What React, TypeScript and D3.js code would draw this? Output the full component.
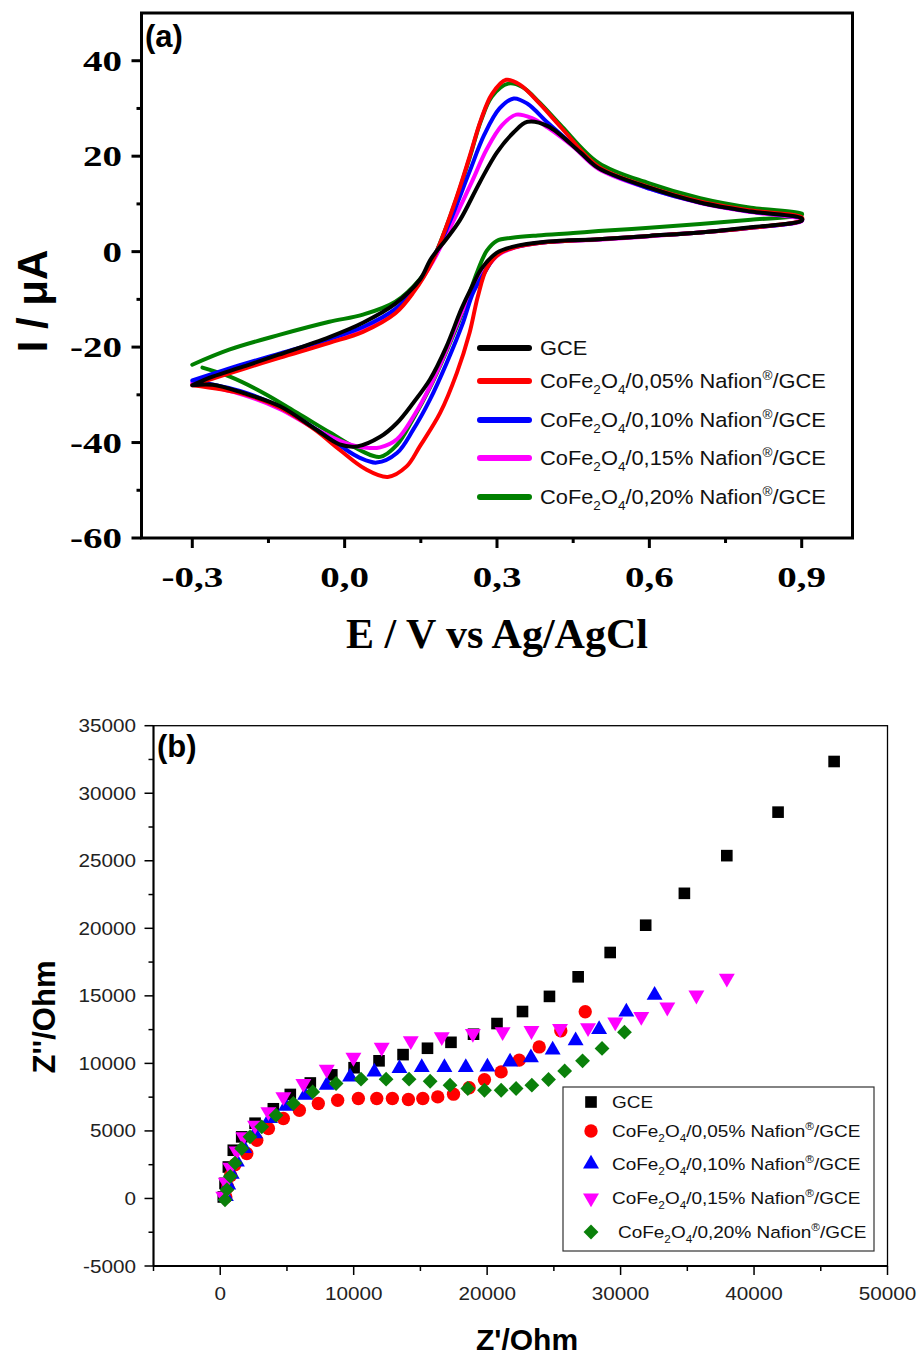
import React from "react";
import * as d3 from "d3";

type Pt = [number, number];

// ---------- Panel (a): cyclic voltammograms, [E (V), I (µA)] ----------
const gceUpper: Pt[] = [[-0.3,-28],[-0.26,-26.2],[-0.2,-24.1],[-0.13,-21.6],[-0.03,-17.9],[0.036,-14.9],[0.1,-10.9],[0.148,-5.9],[0.17,-1.5],[0.2,2.6],[0.227,6.6],[0.266,14.5],[0.3,20.8],[0.332,24.9],[0.36,27.2],[0.4,26.3],[0.464,20.8],[0.5,17.5],[0.6,13.4],[0.7,10.3],[0.8,8.4],[0.9,7.0]];
const gceLower: Pt[] = [[0.9,6.5],[0.8,5.1],[0.7,4.0],[0.6,3.3],[0.5,2.6],[0.4,2.1],[0.33,1.0],[0.3,-0.2],[0.27,-3.5],[0.25,-7.5],[0.23,-12],[0.2,-20],[0.168,-26.8],[0.135,-31.7],[0.103,-35.9],[0.07,-38.8],[0.025,-40.8],[-0.01,-40.4],[-0.06,-37],[-0.127,-32.4],[-0.2,-29.6],[-0.26,-27.9],[-0.3,-28]];

const n05Upper: Pt[] = [[-0.3,-28],[-0.2,-24.6],[-0.127,-22.2],[-0.03,-19.1],[0.036,-16.8],[0.1,-12.9],[0.135,-8.6],[0.174,-1.7],[0.214,9.4],[0.246,19.9],[0.268,27.5],[0.29,33],[0.318,36],[0.345,35],[0.384,31],[0.428,25.8],[0.5,17.8],[0.6,13.5],[0.7,10.5],[0.8,8.6],[0.9,7.2]];
const n05Lower: Pt[] = [[0.9,6.6],[0.8,5.0],[0.7,4.0],[0.6,3.3],[0.5,2.6],[0.4,2.0],[0.335,0.9],[0.306,-0.3],[0.28,-3.5],[0.262,-9.5],[0.246,-17],[0.221,-25.4],[0.188,-33.8],[0.148,-40.8],[0.122,-45],[0.085,-47.2],[0.04,-45.5],[-0.01,-41.5],[-0.06,-37.2],[-0.127,-32.7],[-0.2,-29.8],[-0.3,-28]];

const n10Upper: Pt[] = [[-0.3,-27],[-0.2,-23.6],[-0.127,-21.3],[-0.03,-18.3],[0.036,-15.8],[0.1,-12],[0.14,-7.5],[0.174,-1.5],[0.21,7],[0.245,16.5],[0.275,24.5],[0.305,30],[0.333,32.1],[0.36,31],[0.4,27],[0.45,22.3],[0.5,17.6],[0.6,13.2],[0.7,10.3],[0.8,8.4],[0.9,7.0]];
const n10Lower: Pt[] = [[0.9,6.5],[0.8,5.0],[0.7,4.0],[0.6,3.3],[0.5,2.6],[0.4,2.0],[0.333,0.9],[0.3,-0.6],[0.275,-4.5],[0.253,-8.6],[0.233,-14.9],[0.201,-23.3],[0.168,-31],[0.135,-37.3],[0.103,-42.2],[0.063,-44.2],[0.03,-43.2],[-0.01,-40.6],[-0.06,-37],[-0.127,-32.6],[-0.2,-29.4],[-0.3,-27]];

const n15Upper: Pt[] = [[-0.3,-27.5],[-0.2,-24],[-0.127,-21.6],[-0.03,-18.5],[0.036,-16],[0.1,-12.2],[0.14,-7.5],[0.174,-2],[0.21,5.5],[0.25,14.5],[0.28,21.5],[0.31,26.5],[0.338,28.7],[0.37,27.9],[0.4,26],[0.45,22],[0.5,17.3],[0.6,13.2],[0.7,10.2],[0.8,8.3],[0.9,6.8]];
const n15Lower: Pt[] = [[0.9,6.4],[0.8,5.0],[0.7,4.0],[0.6,3.2],[0.5,2.5],[0.4,2.0],[0.333,0.8],[0.3,-0.9],[0.27,-5],[0.233,-12.2],[0.201,-20.5],[0.168,-28.3],[0.135,-34.6],[0.103,-39.3],[0.07,-41],[0.044,-41.1],[0.0,-40],[-0.06,-37],[-0.127,-33],[-0.2,-30],[-0.3,-27.5]];

const n20Upper: Pt[] = [[-0.3,-23.7],[-0.226,-20.5],[-0.127,-17.4],[-0.03,-14.7],[0.036,-13.2],[0.1,-10.5],[0.148,-5.8],[0.174,-1.5],[0.214,9.2],[0.246,19.6],[0.268,27.3],[0.29,32.5],[0.322,35.2],[0.35,34.5],[0.384,31.2],[0.428,26.2],[0.5,18.6],[0.6,14.3],[0.7,11.2],[0.8,9.2],[0.9,8.0]];
const n20Lower: Pt[] = [[0.9,7.7],[0.8,6.7],[0.7,5.8],[0.6,5.0],[0.5,4.3],[0.45,3.9],[0.38,3.4],[0.33,2.9],[0.3,2.3],[0.28,0.2],[0.262,-4],[0.233,-12.5],[0.2,-21],[0.168,-28.5],[0.135,-35],[0.103,-40.5],[0.07,-43],[0.036,-41.9],[-0.029,-37.9],[-0.093,-33.8],[-0.16,-29.6],[-0.226,-26.2],[-0.28,-24.3]];

// ---------- Panel (b): Nyquist plots, [Z' (Ohm), Z'' (Ohm)] ----------
const eisGCE: Pt[] = [[230,110],[360,1120],[610,2330],[980,3570],[1610,4560],[2610,5570],[3980,6640],[5250,7700],[6750,8550],[8360,9150],[10030,9680],[11900,10190],[13700,10650],[15530,11120],[17290,11560],[18980,12160],[20740,12950],[22650,13840],[24670,14960],[26820,16410],[29220,18210],[31880,20230],[34780,22590],[37960,25380],[41800,28600],[46000,32350]];
const eis05: Pt[] = [[420,110],[560,850],[780,1700],[1100,2500],[1990,3330],[2740,4310],[3610,5180],[4730,5920],[5930,6530],[7350,7030],[8800,7270],[10350,7400],[11730,7400],[12900,7400],[14100,7330],[15180,7400],[16300,7520],[17480,7720],[18650,8200],[19800,8800],[21050,9370],[22400,10240],[23900,11220],[25520,12410],[27350,13820]];
const eis10: Pt[] = [[420,150],[600,1000],[860,1800],[1250,2700],[1800,3700],[2600,4800],[3730,5920],[4930,6830],[6360,7640],[7980,8390],[9730,9000],[11550,9370],[13430,9620],[15100,9700],[16800,9700],[18400,9700],[20020,9740],[21720,10110],[23280,10420],[24910,11000],[26630,11680],[28390,12510],[30430,13810],[32550,15050]];
const eis15: Pt[] = [[230,150],[420,1190],[750,2300],[1230,3500],[1730,4560],[2610,5420],[3610,6410],[4730,7520],[6230,8510],[7980,9550],[9980,10440],[12100,11180],[14280,11670],[16600,11960],[18930,12210],[21160,12330],[23320,12420],[25460,12580],[27560,12640],[29600,13060],[31550,13460],[33500,14160],[35680,15050],[37960,16300]];
const eis20: Pt[] = [[360,-100],[500,650],[750,1640],[1110,2620],[1610,3700],[2230,4560],[3110,5300],[4180,6160],[5480,7030],[6930,7890],[8680,8510],[10550,8830],[12430,8830],[14150,8830],[15730,8680],[17220,8390],[18550,8140],[19800,8010],[21050,8010],[22170,8140],[23350,8390],[24600,8810],[25810,9440],[27150,10190],[28610,11110],[30290,12310]];

// Axis ticks
const cvXTicks = [-0.3, 0, 0.3, 0.6, 0.9];
const cvXMinor = [-0.15, 0.15, 0.45, 0.75];
const cvYTicks = [-60, -40, -20, 0, 20, 40];
const cvYMinor = [-50, -30, -10, 10, 30];
const eisXTicks = [0, 10000, 20000, 30000, 40000, 50000];
const eisXMinor = [-5000, 5000, 15000, 25000, 35000, 45000];
const eisYTicks = [-5000, 0, 5000, 10000, 15000, 20000, 25000, 30000, 35000];
const eisYMinor = [-2500, 2500, 7500, 12500, 17500, 22500, 27500, 32500];

// Series labels
const samplePct = ["05", "10", "15", "20"];
const cvColors = ["#000000", "#ff0000", "#0000ff", "#ff00ff", "#008000"];

const SERIF = "'Liberation Serif', 'Times New Roman', serif";
const SANS = "'Liberation Sans', Arial, sans-serif";

function SText({ x, y, sx = 1, children, ...rest }: any) {
  return (
    <text transform={`translate(${x},${y}) scale(${sx},1)`} {...rest}>
      {children}
    </text>
  );
}

function CompLabel({ pct, fs }: { pct: string; fs: number }) {
  const sub = fs * 0.62;
  const dSub = fs * 0.3;
  const dSup = fs * 0.42;
  return (
    <>
      CoFe
      <tspan dy={dSub} fontSize={sub}>2</tspan>
      <tspan dy={-dSub}>O</tspan>
      <tspan dy={dSub} fontSize={sub}>4</tspan>
      <tspan dy={-dSub}>{`/0,${pct}% Nafion`}</tspan>
      <tspan dy={-dSup} fontSize={sub}>®</tspan>
      <tspan dy={dSup}>/GCE</tspan>
    </>
  );
}

export default function App() {
  // ----- Panel (a) scales -----
  const xa = d3.scaleLinear().domain([-0.4, 1.0]).range([141.5, 852.5]);
  const ya = d3.scaleLinear().domain([-60, 50]).range([538, 13]);
  const cvLine = d3
    .line<Pt>()
    .x((d) => xa(d[0]))
    .y((d) => ya(d[1]))
    .curve(d3.curveCatmullRom.alpha(0.5));

  const cvSeries = [
    { up: gceUpper, lo: gceLower, color: cvColors[0] },
    { up: n05Upper, lo: n05Lower, color: cvColors[1] },
    { up: n10Upper, lo: n10Lower, color: cvColors[2] },
    { up: n15Upper, lo: n15Lower, color: cvColors[3] },
    { up: n20Upper, lo: n20Lower, color: cvColors[4] },
  ];
  const cvDrawOrder = [4, 3, 2, 1, 0];
  const legendRowsA = [348, 381, 420, 458, 497];

  // ----- Panel (b) scales -----
  const xb = d3.scaleLinear().domain([-5000, 50000]).range([153.5, 887.5]);
  const yb = d3.scaleLinear().domain([-5000, 35000]).range([1266, 725.7]);

  const sqr = d3.symbol().type(d3.symbolSquare).size(135)();
  const circ = d3.symbol().type(d3.symbolCircle).size(140)();
  const tri = d3.symbol().type(d3.symbolTriangle).size(110)();
  const diam = d3.symbol().type(d3.symbolSquare).size(110)();

  const eisSeries = [
    { data: eisGCE, path: sqr, rot: 0, color: "#000000" },
    { data: eis05, path: circ, rot: 0, color: "#ff0000" },
    { data: eis10, path: tri, rot: 0, color: "#0000ff" },
    { data: eis15, path: tri, rot: 180, color: "#ff00ff" },
    { data: eis20, path: diam, rot: 45, color: "#0a800a" },
  ];
  const legendRowsB = [1102, 1131, 1164, 1198, 1232];

  return (
    <svg
      width={919}
      height={1355}
      style={{ position: "absolute", left: 0, top: 0, background: "#fff" }}
    >
      <rect x={0} y={0} width={919} height={1355} fill="#fff" />

      {/* ================= Panel (a) ================= */}
      <g>
        {cvDrawOrder.map((i) => (
          <path
            key={i}
            d={cvLine([...cvSeries[i].up, ...cvSeries[i].lo]) || ""}
            fill="none"
            stroke={cvSeries[i].color}
            strokeWidth={4}
            strokeLinejoin="round"
            strokeLinecap="round"
          />
        ))}

        {/* frame */}
        <rect
          x={xa(-0.4)}
          y={ya(50)}
          width={xa(1.0) - xa(-0.4)}
          height={ya(-60) - ya(50)}
          fill="none"
          stroke="#000"
          strokeWidth={3}
        />

        {/* y ticks */}
        {cvYTicks.map((t) => (
          <g key={"ya" + t}>
            <line x1={xa(-0.4) - 10} x2={xa(-0.4)} y1={ya(t)} y2={ya(t)} stroke="#000" strokeWidth={3} />
            <SText
              x={122}
              y={ya(t) + 10}
              sx={1.3}
              textAnchor="end"
              fontFamily={SERIF}
              fontWeight="bold"
              fontSize={30}
            >
              {t < 0 ? "-" + Math.abs(t) : String(t)}
            </SText>
          </g>
        ))}
        {cvYMinor.map((t) => (
          <line key={"yam" + t} x1={xa(-0.4) - 5} x2={xa(-0.4)} y1={ya(t)} y2={ya(t)} stroke="#000" strokeWidth={3} />
        ))}

        {/* x ticks */}
        {cvXTicks.map((t) => (
          <g key={"xa" + t}>
            <line x1={xa(t)} x2={xa(t)} y1={ya(-60)} y2={ya(-60) + 10} stroke="#000" strokeWidth={3} />
            <SText
              x={xa(t)}
              y={587}
              sx={1.3}
              textAnchor="middle"
              fontFamily={SERIF}
              fontWeight="bold"
              fontSize={30}
            >
              {d3.format(".1f")(t).replace(".", ",").replace("−", "-")}
            </SText>
          </g>
        ))}
        {cvXMinor.map((t) => (
          <line key={"xam" + t} x1={xa(t)} x2={xa(t)} y1={ya(-60)} y2={ya(-60) + 5} stroke="#000" strokeWidth={3} />
        ))}

        {/* axis titles */}
        <text
          x={497}
          y={648}
          textAnchor="middle"
          fontFamily={SERIF}
          fontWeight="bold"
          fontSize={42}
        >
          E / V vs Ag/AgCl
        </text>
        <text
          transform="translate(47,301) rotate(-90)"
          textAnchor="middle"
          fontFamily={SANS}
          fontWeight="bold"
          fontSize={42}
        >
          I / μA
        </text>

        <text x={145} y={47} fontFamily={SANS} fontWeight="bold" fontSize={31}>
          (a)
        </text>

        {/* legend */}
        {cvSeries.map((s, i) => (
          <g key={"la" + i}>
            <line
              x1={480}
              x2={529}
              y1={legendRowsA[i]}
              y2={legendRowsA[i]}
              stroke={s.color}
              strokeWidth={6}
              strokeLinecap="round"
            />
            <SText
              x={540}
              y={legendRowsA[i] + 7}
              sx={1.12}
              fontFamily={SANS}
              fontSize={19.5}
              fill="#111"
            >
              {i === 0 ? "GCE" : <CompLabel pct={samplePct[i - 1]} fs={19.5} />}
            </SText>
          </g>
        ))}
      </g>

      {/* ================= Panel (b) ================= */}
      <g>
        {eisSeries.map((s, si) => (
          <g key={"s" + si} fill={s.color}>
            {s.data.map((d, j) => (
              <path
                key={j}
                d={s.path || ""}
                transform={`translate(${xb(d[0])},${yb(d[1])}) rotate(${s.rot})`}
              />
            ))}
          </g>
        ))}

        {/* frame */}
        <rect
          x={xb(-5000)}
          y={yb(35000)}
          width={xb(50000) - xb(-5000)}
          height={yb(-5000) - yb(35000)}
          fill="none"
          stroke="#000"
          strokeWidth={1.3}
        />
        <line x1={xb(-5000)} x2={xb(-5000)} y1={yb(35000)} y2={yb(-5000)} stroke="#000" strokeWidth={2} />
        <line x1={xb(-5000)} x2={xb(50000)} y1={yb(-5000)} y2={yb(-5000)} stroke="#000" strokeWidth={2} />

        {eisYTicks.map((t) => (
          <g key={"yb" + t}>
            <line x1={xb(-5000) - 9} x2={xb(-5000)} y1={yb(t)} y2={yb(t)} stroke="#000" strokeWidth={1.5} />
            <SText
              x={136}
              y={yb(t) + 6.5}
              sx={1.15}
              textAnchor="end"
              fontFamily={SANS}
              fontSize={18}
              fill="#222"
            >
              {String(t)}
            </SText>
          </g>
        ))}
        {eisYMinor.map((t) => (
          <line key={"ybm" + t} x1={xb(-5000) - 5} x2={xb(-5000)} y1={yb(t)} y2={yb(t)} stroke="#000" strokeWidth={1.5} />
        ))}
        {eisXTicks.map((t) => (
          <g key={"xb" + t}>
            <line x1={xb(t)} x2={xb(t)} y1={yb(-5000)} y2={yb(-5000) + 9} stroke="#000" strokeWidth={1.5} />
            <SText
              x={xb(t)}
              y={1300}
              sx={1.15}
              textAnchor="middle"
              fontFamily={SANS}
              fontSize={18}
              fill="#222"
            >
              {String(t)}
            </SText>
          </g>
        ))}
        {eisXMinor.map((t) => (
          <line key={"xbm" + t} x1={xb(t)} x2={xb(t)} y1={yb(-5000)} y2={yb(-5000) + 5} stroke="#000" strokeWidth={1.5} />
        ))}

        <text x={527} y={1350} textAnchor="middle" fontFamily={SANS} fontWeight="bold" fontSize={30}>
          Z'/Ohm
        </text>
        <text
          transform="translate(55,1017) rotate(-90)"
          textAnchor="middle"
          fontFamily={SANS}
          fontWeight="bold"
          fontSize={31}
        >
          Z''/Ohm
        </text>
        <text x={157} y={757} fontFamily={SANS} fontWeight="bold" fontSize={31}>
          (b)
        </text>

        {/* legend */}
        <rect x={563} y={1087} width={311} height={164} fill="#fff" stroke="#333" strokeWidth={1.2} />
        {eisSeries.map((s, i) => (
          <g key={"lb" + i}>
            <path
              d={s.path || ""}
              fill={s.color}
              transform={`translate(591,${legendRowsB[i]}) rotate(${s.rot})`}
            />
            <SText
              x={i === 4 ? 618 : 612}
              y={legendRowsB[i] + 6}
              sx={1.15}
              fontFamily={SANS}
              fontSize={16.5}
              fill="#111"
            >
              {i === 0 ? "GCE" : <CompLabel pct={samplePct[i - 1]} fs={16.5} />}
            </SText>
          </g>
        ))}
      </g>
    </svg>
  );
}
